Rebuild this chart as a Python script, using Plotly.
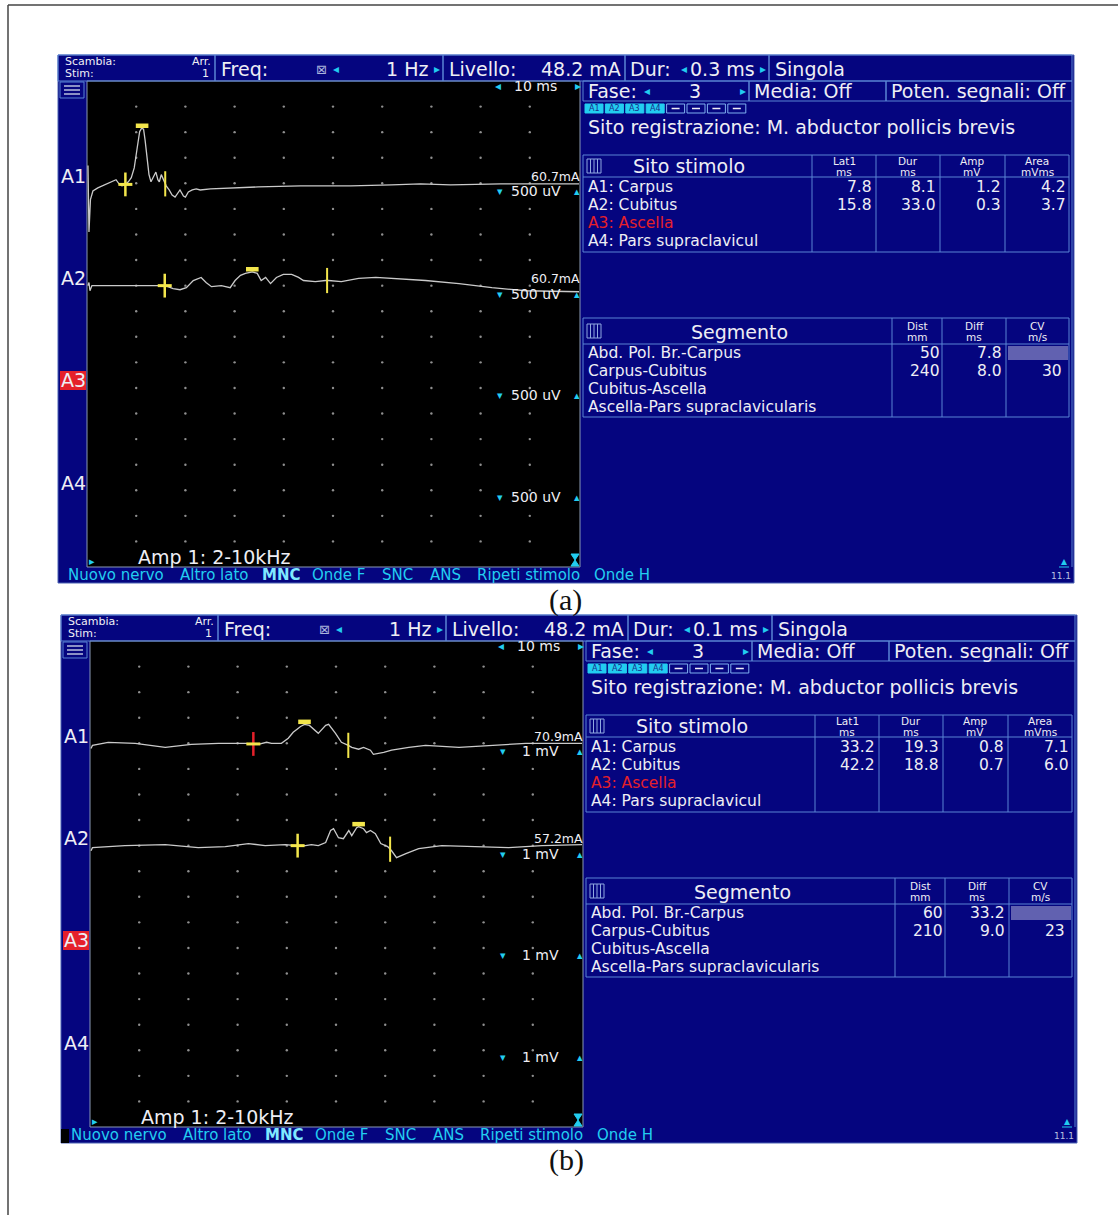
import plotly.graph_objects as go
import numpy as np

W, H = 1118, 1215

# ------------------------------------------------------------------ data
ms_per_div = 10
n_ydiv = 19
a_sens_mv = 0.5
b_sens_mv = 1.0
a_sens_label = "500 uV"
b_sens_label = "1 mV"

freq_label = "1 Hz"
level_label = "48.2 mA"
fase_label = "3"
a_dur_label = "0.3 ms"
b_dur_label = "0.1 ms"
a_ch_current = ["60.7mA", "60.7mA"]
b_ch_current = ["70.9mA", "57.2mA"]

channels = ["A1", "A2", "A3", "A4"]
stim_sites = ["A1: Carpus", "A2: Cubitus", "A3: Ascella", "A4: Pars supraclavicul"]
segments = ["Abd. Pol. Br.-Carpus", "Carpus-Cubitus", "Cubitus-Ascella",
            "Ascella-Pars supraclavicularis"]
menu_items = ["Nuovo nervo", "Altro lato", "MNC", "Onde F", "SNC", "ANS",
              "Ripeti stimolo", "Onde H"]

a_lat1 = [7.8, 15.8]
a_dur = [8.1, 33.0]
a_amp = [1.2, 0.3]
a_area = [4.2, 3.7]
a_dist = [50, 240]
a_diff = [7.8, 8.0]
a_cv = [None, 30]

b_lat1 = [33.2, 42.2]
b_dur = [19.3, 18.8]
b_amp = [0.8, 0.7]
b_area = [7.1, 6.0]
b_dist = [60, 210]
b_diff = [33.2, 9.0]
b_cv = [None, 23]

a_peak_ms = [11.2, 33.6]
b_peak_ms = [43.6, 54.6]

# waveforms: time (ms) and amplitude (mV, relative to channel baseline)
a_A1_t = [0.2, 0.4, 0.7, 1.2, 2.2, 3.7, 5.1, 5.9, 6.5, 7.1, 7.7, 8.4, 9.0, 9.6, 10.2,
          10.7, 11.1, 11.5, 11.8, 12.2, 12.6, 13.0, 13.4, 14.0, 14.4, 14.7, 15.1, 15.5,
          16.1, 16.7, 17.3, 17.9, 18.5, 18.9, 19.6, 20.0, 20.6, 21.4, 22.2, 23.0, 25.1,
          29.1, 34.8, 43.4, 53.6, 61.9, 67.8, 73.9, 80.0, 84.1, 92.3, 100.0]
a_A1_mv = [0.40, -0.90, -0.27, -0.10, -0.04, 0.02, 0.08, 0.12, 0.04, 0.00, 0.02, 0.08,
           0.16, 0.35, 0.74, 1.06, 1.13, 1.11, 0.90, 0.55, 0.22, 0.08, 0.16, 0.27, 0.12,
           0.08, 0.22, 0.12, 0.00, -0.08, -0.18, -0.22, -0.12, -0.08, -0.20, -0.22,
           -0.12, -0.08, -0.06, -0.08, -0.06, -0.04, -0.02, 0.00, 0.00, 0.02, 0.04,
           0.02, 0.04, 0.04, 0.04, 0.04]
a_A2_t = [0.2, 0.4, 0.6, 1.0, 15.9, 17.5, 18.9, 20.2, 21.6, 23.2, 24.2, 25.3, 27.3,
          29.1, 30.1, 31.2, 32.2, 33.6, 34.6, 35.4, 36.3, 37.3, 38.5, 39.9, 41.6, 43.0,
          44.0, 46.4, 48.5, 49.1, 51.7, 55.2, 58.7, 61.9, 68.8, 75.6, 82.3, 89.2, 100.0]
a_A2_mv = [0.0, 0.06, -0.10, 0.0, 0.0, -0.06, -0.08, -0.04, 0.10, 0.16, 0.06, -0.02,
           0.00, -0.04, 0.10, 0.20, 0.24, 0.27, 0.24, 0.10, 0.16, 0.04, 0.16, 0.22, 0.22,
           0.16, 0.10, 0.08, 0.10, 0.10, 0.08, 0.14, 0.16, 0.14, 0.10, 0.04, -0.04,
           -0.10, -0.12]
b_A1_t = [0.2, 0.5, 3.7, 9.2, 15.3, 20.6, 26.1, 31.6, 34.2, 35.9, 36.9, 38.9, 40.3,
          41.3, 42.8, 43.6, 44.6, 45.6, 46.4, 47.9, 48.5, 49.9, 51.1, 52.5, 53.2, 54.6,
          55.6, 57.0, 57.6, 59.7, 61.3, 64.8, 68.2, 75.0, 81.7, 88.6, 100.0]
b_A1_mv = [-0.20, -0.08, 0.04, 0.00, -0.16, -0.04, 0.00, 0.00, -0.04, 0.04, 0.00, 0.00,
           0.20, 0.43, 0.66, 0.74, 0.70, 0.51, 0.39, 0.70, 0.74, 0.39, 0.04, -0.08,
           -0.16, -0.23, -0.16, -0.27, -0.43, -0.35, -0.27, -0.16, -0.08, -0.16, -0.08,
           0.00, 0.00]
b_A2_t = [0.2, 0.5, 7.1, 15.3, 22.0, 27.5, 32.2, 35.6, 39.7, 41.8, 43.8, 45.0, 46.4,
          47.9, 48.9, 49.5, 50.5, 51.5, 52.6, 53.2, 54.2, 54.6, 55.6, 56.2, 57.0, 58.0,
          59.1, 60.5, 61.3, 62.3, 64.2, 66.8, 71.5, 78.4, 85.1, 91.9, 100.0]
b_A2_mv = [-0.20, -0.08, 0.00, 0.04, -0.08, -0.04, 0.08, 0.00, 0.04, 0.00, 0.00, 0.04,
           0.00, 0.12, 0.59, 0.66, 0.31, 0.27, 0.59, 0.39, 0.70, 0.74, 0.66, 0.51, 0.59,
           0.47, 0.08, -0.04, -0.20, -0.47, -0.31, -0.12, 0.00, -0.04, -0.08, 0.00, 0.04]

# ------------------------------------------------------------------ style
UI = "DejaVu Sans"
NAVY = "#05057f"
BORDER = "#5b84d4"
FG = "#eeeef4"
CYAN = "#22cdf0"
RED = "#e5202a"
YEL = "#f3e64c"
TRACE = "#cacaca"
ROW = 15.5    # font size for stacked table rows
HEAD = 19     # font size for header lines

shapes, ann = [], []


def rect(x0, y0, x1, y1, fill=None, line=None, lw=1):
    shapes.append(dict(type="rect", xref="x", yref="y", x0=x0, y0=y0, x1=x1, y1=y1,
                       fillcolor=fill if fill else "rgba(0,0,0,0)",
                       line=dict(color=line if line else "rgba(0,0,0,0)",
                                 width=lw if line else 0),
                       layer="below"))


def seg(x0, y0, x1, y1, color=BORDER, lw=1):
    shapes.append(dict(type="line", xref="x", yref="y", x0=x0, y0=y0, x1=x1, y1=y1,
                       line=dict(color=color, width=lw), layer="below"))


def txt(x, y, s, size=HEAD, color=FG, anchor="left", family=UI, bold=False):
    ann.append(dict(x=x, y=y, xref="x", yref="y", text=("<b>%s</b>" % s) if bold else s,
                    showarrow=False, xanchor=anchor, yanchor="middle", borderpad=0,
                    font=dict(family=family, size=size, color=color)))


def fmt1(v):
    return "" if v is None else "%.1f" % v


def panel(dx, dy, dur_lbl, ch_cur, sens_lbl, sens_x, lat1, dur, amp, area, dist, diff,
          cv, corner=False):
    X = lambda x: x + dx
    Y = lambda y: y + dy
    rect(X(58), Y(55), X(1074), Y(583), fill=NAVY, line="#4a62b4")
    rect(X(87), Y(81), X(580), Y(567), fill="#000000", line="#8a9ab4")
    if corner:
        rect(X(58), Y(569), X(66), Y(583), fill="#000000")
    # header
    for x0, x1 in [(58, 215), (215, 443), (443, 625), (625, 769), (769, 1072)]:
        rect(X(x0), Y(55), X(x1), Y(81), line=BORDER)
    for x0, x1 in [(583, 749), (749, 886), (886, 1072)]:
        rect(X(x0), Y(81), X(x1), Y(101), line=BORDER)
    seg(X(1072), Y(101), X(1072), Y(567))
    txt(X(64), Y(61.5), "Scambia:", 11)
    txt(X(64), Y(73.5), "Stim:", 11)
    txt(X(212), Y(61.5), "Arr.", 11, anchor="right")
    txt(X(210), Y(73.5), "1", 11, anchor="right")
    txt(X(220), Y(69), "Freq:")
    txt(X(321), Y(69), "⊠", 13, "#aab4dc", "center")
    txt(X(336), Y(69), "◂", 12, CYAN, "center")
    txt(X(429), Y(69), freq_label, anchor="right")
    txt(X(437), Y(69), "▸", 12, CYAN, "center")
    txt(X(448), Y(69), "Livello:")
    txt(X(622), Y(69), level_label, anchor="right")
    txt(X(629), Y(69), "Dur:")
    txt(X(684), Y(69), "◂", 12, CYAN, "center")
    txt(X(689), Y(69), dur_lbl)
    txt(X(763), Y(69), "▸", 12, CYAN, "center")
    txt(X(774), Y(69), "Singola")
    # row 2
    txt(X(587), Y(91), "Fase:")
    txt(X(647), Y(91), "◂", 12, CYAN, "center")
    txt(X(695), Y(91), fase_label, anchor="center")
    txt(X(743), Y(91), "▸", 12, CYAN, "center")
    txt(X(753), Y(91), "Media: Off")
    txt(X(890), Y(91), "Poten. segnali: Off")
    # channel boxes
    for i in range(8):
        x0 = 585 + 20.4 * i
        if i < 4:
            rect(X(x0), Y(104), X(x0 + 18), Y(113), fill=CYAN, line=CYAN)
            txt(X(x0 + 9), Y(108.5), channels[i], 8, "#1a2a8a", "center")
        else:
            rect(X(x0), Y(104), X(x0 + 18), Y(113), line="#7fb0f0")
            seg(X(x0 + 5), Y(108.5), X(x0 + 13), Y(108.5), FG, 1.5)
    txt(X(587), Y(127), "Sito registrazione: M. abductor pollicis brevis")
    # table 1
    rect(X(583), Y(155), X(1069), Y(252), line=BORDER)
    seg(X(583), Y(177), X(1069), Y(177))
    for xc in [812, 876, 940, 1005]:
        seg(X(xc), Y(155), X(xc), Y(252))
    rect(X(587), Y(159), X(601), Y(173), line="#8fa8e0")
    for xi in (590.5, 594, 597.5):
        seg(X(xi), Y(159), X(xi), Y(173), "#8fa8e0")
    txt(X(689), Y(166), "Sito stimolo", anchor="center")
    for xc, top, bot in [(844, "Lat1", "ms"), (908, "Dur", "ms"), (972, "Amp", "mV"),
                         (1037, "Area", "mVms")]:
        txt(X(xc), Y(160.5), top, 10.5, anchor="center")
        txt(X(xc), Y(171.5), bot, 10.5, anchor="center")
    row_y = [187, 205, 223, 241]
    for i, s in enumerate(stim_sites):
        txt(X(587), Y(row_y[i]), s, ROW, RED if i == 2 else FG)
    for i in range(len(lat1)):
        txt(X(873), Y(row_y[i]), fmt1(lat1[i]), ROW, anchor="right")
        txt(X(937), Y(row_y[i]), fmt1(dur[i]), ROW, anchor="right")
        txt(X(1002), Y(row_y[i]), fmt1(amp[i]), ROW, anchor="right")
        txt(X(1067), Y(row_y[i]), fmt1(area[i]), ROW, anchor="right")
    # table 2
    rect(X(583), Y(318), X(1069), Y(417), line=BORDER)
    seg(X(583), Y(344), X(1069), Y(344))
    for xc in [892, 942, 1006]:
        seg(X(xc), Y(318), X(xc), Y(417))
    rect(X(587), Y(324), X(601), Y(338), line="#8fa8e0")
    for xi in (590.5, 594, 597.5):
        seg(X(xi), Y(324), X(xi), Y(338), "#8fa8e0")
    txt(X(739), Y(332), "Segmento", anchor="center")
    for xc, top, bot in [(917, "Dist", "mm"), (974, "Diff", "ms"), (1037, "CV", "m/s")]:
        txt(X(xc), Y(326), top, 10.5, anchor="center")
        txt(X(xc), Y(337), bot, 10.5, anchor="center")
    row2_y = [353, 371, 389, 407]
    for i, s in enumerate(segments):
        txt(X(587), Y(row2_y[i]), s, ROW)
    for i in range(len(dist)):
        txt(X(941), Y(row2_y[i]), "%d" % dist[i], ROW, anchor="right")
        txt(X(1003), Y(row2_y[i]), fmt1(diff[i]), ROW, anchor="right")
        if cv[i] is None:
            rect(X(1008), Y(row2_y[i] - 7), X(1068), Y(row2_y[i] + 7),
                 fill="rgba(190,190,225,0.5)")
        else:
            txt(X(1063), Y(row2_y[i]), "%d" % cv[i], ROW, anchor="right")
    # left side bar
    rect(X(60), Y(82), X(84), Y(98), line=BORDER)
    for yy in (86, 90, 94):
        seg(X(64), Y(yy), X(80), Y(yy), "#b8c0dc", 1.5)
    ch_y = [176, 278, 380, 483]
    for i, c in enumerate(channels):
        if i == 2:
            rect(X(60), Y(371), X(86), Y(390), fill=RED)
        txt(X(73), Y(ch_y[i]), c, 19, anchor="center")
    # inside plot
    txt(X(498), Y(86), "◂", 12, CYAN, "center")
    txt(X(513), Y(86), "%d ms" % ms_per_div, 14)
    txt(X(578), Y(86), "▸", 12, CYAN, "center")
    for i, c in enumerate(ch_cur):
        txt(X(581), Y([176, 278][i]), c, 12.5, anchor="right")
    for yy in [191, 294, 395, 497]:
        txt(X(500), Y(yy), "▾", 11, CYAN, "center")
        txt(X(sens_x), Y(yy), sens_lbl, 14)
        txt(X(577), Y(yy), "▴", 11, CYAN, "center")
    txt(X(137), Y(557), "Amp 1: 2-10kHz", 19)
    txt(X(92), Y(561), "▸", 11, CYAN, "center")
    hx, hy = X(575), Y(560)
    shapes.append(dict(type="path", xref="x", yref="y", layer="below",
                       path="M %f,%f L %f,%f L %f,%f L %f,%f Z" % (
                           hx - 4, hy - 6, hx + 4, hy - 6, hx - 4, hy + 6, hx + 4, hy + 6),
                       fillcolor=CYAN, line=dict(color=CYAN, width=1)))
    # bottom menu
    menu_x = [67, 179, 261, 311, 381, 429, 476, 593]
    for i, m in enumerate(menu_items):
        txt(X(menu_x[i]), Y(575), m, 15, "#7fe8ff" if m == "MNC" else CYAN,
            bold=(m == "MNC"))
    txt(X(1064), Y(561), "▴", 12, CYAN, "center")
    seg(X(1059), Y(567), X(1069), Y(567), CYAN, 1)
    txt(X(1061), Y(576), "11.1", 9, "#b8c0e0", "center")


panel(0, 0, a_dur_label, a_ch_current, a_sens_label, 510, a_lat1, a_dur, a_amp, a_area,
      a_dist, a_diff, a_cv)
panel(3, 560, b_dur_label, b_ch_current, b_sens_label, 518, b_lat1, b_dur, b_amp, b_area,
      b_dist, b_diff, b_cv, corner=True)

# outer frame and captions
seg(8, 5, 8, H, "#444444", 1.5)
seg(8, 5, W, 5, "#444444", 1.5)
txt(565, 600, "(a)", 30, "#111111", "center", "Liberation Serif")
txt(566, 1160, "(b)", 30, "#111111", "center", "Liberation Serif")

# ------------------------------------------------------------------ traces
fig = go.Figure()
fig.add_trace(go.Scatter(x=[None], y=[None], xaxis="x", yaxis="y", hoverinfo="skip"))


def waves(xa, ya, series, offsets, sens, lat1, dur, peaks, red_first):
    gx, gy = [], []
    for k in range(1, 10):
        for j in range(1, n_ydiv):
            gx.append(k * ms_per_div)
            gy.append(j)
    fig.add_trace(go.Scatter(x=gx, y=gy, mode="markers", xaxis=xa, yaxis=ya,
                             marker=dict(size=2.4, color="#8f8f8f"), hoverinfo="skip"))
    for i, (t, v) in enumerate(series):
        off = offsets[i]
        yy = [off - val / sens for val in v]
        fig.add_trace(go.Scatter(x=t, y=yy, mode="lines", xaxis=xa, yaxis=ya,
                                 line=dict(color=TRACE, width=1.3), hoverinfo="skip"))
        yl = off - np.interp(lat1[i], t, v) / sens
        ye = off - np.interp(lat1[i] + dur[i], t, v) / sens
        yp = off - np.interp(peaks[i], t, v) / sens - 0.1
        lat_col = RED if (red_first and i == 0) else YEL
        fig.add_trace(go.Scatter(x=[lat1[i]], y=[yl], mode="markers", xaxis=xa, yaxis=ya,
                                 marker=dict(symbol="line-ns", size=17,
                                             line=dict(color=lat_col, width=2.5)),
                                 hoverinfo="skip"))
        fig.add_trace(go.Scatter(x=[lat1[i]], y=[yl], mode="markers", xaxis=xa, yaxis=ya,
                                 marker=dict(symbol="line-ew", size=10,
                                             line=dict(color=YEL, width=3)),
                                 hoverinfo="skip"))
        fig.add_trace(go.Scatter(x=[lat1[i] + dur[i]], y=[ye], mode="markers", xaxis=xa,
                                 yaxis=ya,
                                 marker=dict(symbol="line-ns", size=18,
                                             line=dict(color=YEL, width=2)),
                                 hoverinfo="skip"))
        fig.add_trace(go.Scatter(x=[peaks[i]], y=[yp], mode="markers", xaxis=xa, yaxis=ya,
                                 marker=dict(symbol="line-ew", size=9,
                                             line=dict(color=YEL, width=4.5)),
                                 hoverinfo="skip"))


waves("x2", "y2", [(a_A1_t, a_A1_mv), (a_A2_t, a_A2_mv)], [4.1, 8.0], a_sens_mv,
      a_lat1, a_dur, a_peak_ms, False)
waves("x3", "y3", [(b_A1_t, b_A1_mv), (b_A2_t, b_A2_mv)], [4.0, 8.0], b_sens_mv,
      b_lat1, b_dur, b_peak_ms, True)

fig.update_layout(
    width=W, height=H, autosize=False, margin=dict(l=0, r=0, t=0, b=0),
    paper_bgcolor="white", plot_bgcolor="rgba(0,0,0,0)", showlegend=False,
    xaxis=dict(range=[0, W], domain=[0, 1], visible=False, fixedrange=True),
    yaxis=dict(range=[H, 0], domain=[0, 1], visible=False, fixedrange=True),
    xaxis2=dict(domain=[87 / W, 579 / W], range=[0, 100], visible=False, anchor="y2",
                fixedrange=True),
    yaxis2=dict(domain=[1 - 567 / H, 1 - 81 / H], range=[n_ydiv, 0], visible=False,
                anchor="x2", fixedrange=True),
    xaxis3=dict(domain=[90 / W, 582 / W], range=[0, 100], visible=False, anchor="y3",
                fixedrange=True),
    yaxis3=dict(domain=[1 - 1127 / H, 1 - 641 / H], range=[n_ydiv, 0], visible=False,
                anchor="x3", fixedrange=True),
    shapes=shapes, annotations=ann,
)
fig.write_html("out.html")
